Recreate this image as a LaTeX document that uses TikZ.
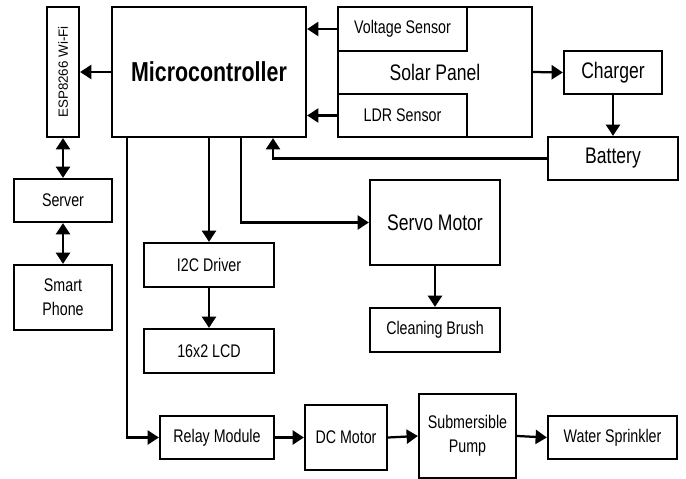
\documentclass[tikz,border=0pt]{standalone}
\usepackage{fontspec}
\setmainfont{Liberation Sans}[FakeStretch=0.78]
\newfontfamily\plainsans{Liberation Sans}
\usepackage{tikz}
\usetikzlibrary{arrows.meta, positioning, calc}

\tikzset{
  blk/.style={draw=black, line width=1.6pt, fill=white, align=center, inner sep=2pt},
  smalltxt/.style={font=\fontsize{13}{17}\selectfont},
  midtxt/.style={font=\fontsize{16}{19}\selectfont},
  link/.style={line width=1.6pt, -{Triangle[length=8pt, width=10pt]}},
  twoway/.style={line width=1.6pt, {Triangle[length=8pt, width=10pt]}-{Triangle[length=8pt, width=10pt]}}
}

\begin{document}
\begin{tikzpicture}[x=0.025cm, y=-0.025cm]
                \useasboundingbox (0,0) rectangle (686,479);

                % --- Top row ---
                \node[blk, minimum width=0.8cm, minimum height=3.25cm] (esp) at (63,72) {};
                \node[rotate=90, font=\plainsans\fontsize{9.5}{11}\selectfont] (esplbl) at (esp.center) {ESP8266 Wi-Fi};
                \node[blk, minimum width=4.85cm, minimum height=3.25cm, font=\fontsize{19.5}{22}\selectfont\bfseries] (mcu) at (209,72) {Microcontroller};
                \node[blk, midtxt, minimum width=4.85cm, minimum height=3.25cm] (solar) at (435,72) {Solar Panel};
                \node[blk, smalltxt, minimum width=3.225cm, minimum height=1.1cm] (volt) at (402.5,29) {Voltage Sensor};
                \node[blk, smalltxt, minimum width=3.225cm, minimum height=1.075cm] (ldr) at (402.5,115.5) {LDR Sensor};
                \node[blk, midtxt, minimum width=2.45cm, minimum height=1.075cm] (charger) at (613,72.5) {Charger};
                \node[blk, midtxt, minimum width=3.25cm, minimum height=1.075cm] (battery) at (613,158.5) {Battery};

                % --- Left column ---
                \node[blk, smalltxt, minimum width=2.45cm, minimum height=1.075cm] (server) at (63,200.5) {Server};
                \node[blk, smalltxt, minimum width=2.45cm, minimum height=1.625cm] (phone) at (63,297.5) {Smart\\Phone};

                % --- Middle ---
                \node[blk, smalltxt, minimum width=3.25cm, minimum height=1.1cm] (i2c) at (209,265) {I2C Driver};
                \node[blk, smalltxt, minimum width=3.25cm, minimum height=1.1cm] (lcd) at (209,351) {16x2 LCD};
                \node[blk, midtxt, minimum width=3.25cm, minimum height=2.125cm] (servo) at (435,222.5) {Servo Motor};
                \node[blk, smalltxt, minimum width=3.25cm, minimum height=1.1cm] (brush) at (435,330) {Cleaning Brush};

                % --- Bottom row ---
                \node[blk, smalltxt, minimum width=2.85cm, minimum height=1.075cm] (relay) at (217,437.5) {Relay Module};
                \node[blk, smalltxt, minimum width=2.05cm, minimum height=1.625cm] (dcm) at (346,437.5) {DC Motor};
                \node[blk, smalltxt, minimum width=2.425cm, minimum height=2.1cm] (pump) at (467.5,436) {Submersible\\Pump};
                \node[blk, smalltxt, minimum width=3.225cm, minimum height=1.075cm] (sprinkler) at (612.5,437.5) {Water Sprinkler};

                % --- Arrows ---
                \draw[link] (mcu.west) -- (esp.east);
                \draw[link] (volt.west) -- (volt.west -| mcu.east);
                \draw[link] (ldr.west) -- (ldr.west -| mcu.east);
                \draw[link] (solar.east) -- (charger.west);
                \draw[link] (charger.south) -- (charger.south |- battery.north);
                \draw[link] (battery.west) -| ($(mcu.south)+(64,0)$);
                \draw[twoway] (esp.south) -- (server.north);
                \draw[twoway] (server.south) -- (phone.north);
                \draw[link] (mcu.south) -- (i2c.north);
                \draw[link] (i2c.south) -- (lcd.north);
                \draw[link] ($(mcu.south)+(32,0)$) |- (servo.west);
                \draw[link] (servo.south) -- (brush.north);
                \draw[link] ($(mcu.south west)+(16,0)$) |- (relay.west);
                \draw[link] (relay.east) -- (dcm.west);
                \draw[link] (dcm.east) -- (pump.west);
                \draw[link] (pump.east) -- (sprinkler.west);
            \end{tikzpicture}
\end{document}
